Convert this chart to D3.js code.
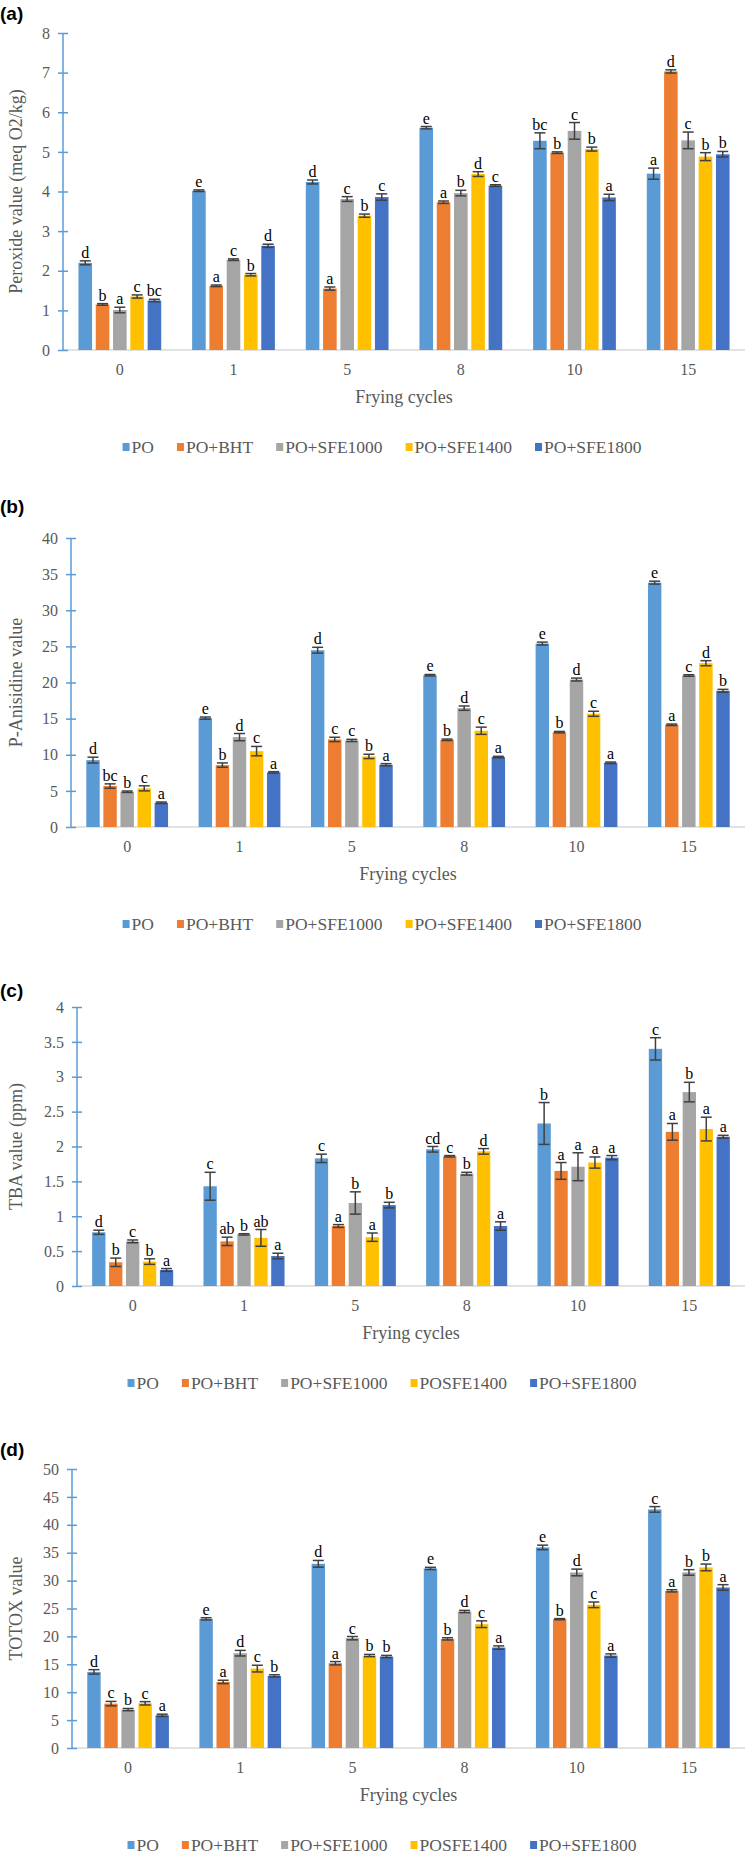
<!DOCTYPE html>
<html>
<head>
<meta charset="utf-8">
<script src="https://cdn.jsdelivr.net/npm/d3@7"></script>
<style>
  body { margin: 0; background: #fff; }
  svg { display: block; }
</style>
</head>
<body>
<div id="chart"></div>
<script>
// Frying cycles on the x axis
const cycles = ["0", "1", "5", "8", "10", "15"];

// legend names (panels c and d spell the 1400 series without "+")
const seriesAB = ["PO", "PO+BHT", "PO+SFE1000", "PO+SFE1400", "PO+SFE1800"];
const seriesCD = ["PO", "PO+BHT", "PO+SFE1000", "POSFE1400", "PO+SFE1800"];

// Excel office palette
const COLORS = ["#5B9BD5", "#ED7D31", "#A5A5A5", "#FFC000", "#4472C4"];

// ---- (a) Peroxide value: rows = series, cols = cycles ----
const peroxideValues = [
  [2.20, 4.02, 4.24, 5.61, 5.28, 4.45],
  [1.15, 1.62, 1.55, 3.73, 4.98, 7.03],
  [1.01, 2.28, 3.81, 3.96, 5.53, 5.29],
  [1.35, 1.90, 3.39, 4.44, 5.07, 4.88],
  [1.25, 2.63, 3.86, 4.15, 3.85, 4.94]
];
const peroxideErrors = [
  [0.05, 0.02, 0.05, 0.03, 0.20, 0.14],
  [0.02, 0.02, 0.04, 0.03, 0.02, 0.04],
  [0.07, 0.02, 0.06, 0.07, 0.21, 0.21],
  [0.04, 0.03, 0.04, 0.06, 0.05, 0.10],
  [0.03, 0.04, 0.08, 0.02, 0.08, 0.07]
];
const peroxideLetters = [
  ["d", "e", "d", "e", "bc", "a"],
  ["b", "a", "a", "a", "b", "d"],
  ["a", "c", "c", "b", "c", "c"],
  ["c", "b", "b", "d", "b", "b"],
  ["bc", "d", "c", "c", "a", "b"]
];

// ---- (b) P-Anisidine value ----
const anisidineValues = [
  [9.26, 15.07, 24.47, 21.01, 25.39, 33.82],
  [5.67, 8.57, 12.12, 12.07, 13.13, 14.15],
  [4.88, 12.44, 11.98, 16.45, 20.41, 20.97],
  [5.35, 10.50, 9.77, 13.32, 15.67, 22.67],
  [3.36, 7.56, 8.62, 9.68, 8.89, 18.85]
];
const anisidineErrors = [
  [0.40, 0.15, 0.40, 0.10, 0.20, 0.20],
  [0.30, 0.30, 0.30, 0.10, 0.10, 0.10],
  [0.10, 0.50, 0.15, 0.30, 0.20, 0.10],
  [0.35, 0.65, 0.30, 0.50, 0.35, 0.35],
  [0.10, 0.10, 0.15, 0.10, 0.10, 0.20]
];
const anisidineLetters = [
  ["d", "e", "d", "e", "e", "e"],
  ["bc", "b", "c", "b", "b", "a"],
  ["b", "d", "c", "d", "d", "c"],
  ["c", "c", "b", "c", "c", "d"],
  ["a", "a", "a", "a", "a", "b"]
];

// ---- (c) TBA value ----
const tbaValues = [
  [0.77, 1.43, 1.83, 1.96, 2.33, 3.40],
  [0.34, 0.64, 0.86, 1.86, 1.65, 2.21],
  [0.64, 0.74, 1.19, 1.61, 1.71, 2.78],
  [0.35, 0.69, 0.70, 1.93, 1.77, 2.25],
  [0.23, 0.43, 1.16, 0.86, 1.84, 2.14]
];
const tbaErrors = [
  [0.03, 0.20, 0.06, 0.04, 0.30, 0.16],
  [0.06, 0.06, 0.02, 0.01, 0.12, 0.12],
  [0.02, 0.01, 0.16, 0.02, 0.20, 0.14],
  [0.04, 0.12, 0.06, 0.04, 0.08, 0.17],
  [0.02, 0.04, 0.04, 0.06, 0.03, 0.02]
];
const tbaLetters = [
  ["d", "c", "c", "cd", "b", "c"],
  ["b", "ab", "a", "c", "a", "a"],
  ["c", "b", "b", "b", "a", "b"],
  ["b", "ab", "a", "d", "a", "a"],
  ["a", "a", "b", "a", "a", "a"]
];

// ---- (d) TOTOX value ----
const totoxValues = [
  [13.64, 23.15, 33.01, 32.18, 35.95, 42.76],
  [7.95, 11.84, 15.19, 19.56, 23.09, 28.17],
  [6.88, 16.99, 19.68, 24.46, 31.46, 31.46],
  [8.01, 14.23, 16.57, 22.19, 25.66, 32.36],
  [5.86, 12.92, 16.39, 18.00, 16.57, 28.77]
];
const totoxErrors = [
  [0.40, 0.20, 0.60, 0.20, 0.40, 0.50],
  [0.40, 0.30, 0.30, 0.20, 0.10, 0.20],
  [0.20, 0.50, 0.30, 0.20, 0.60, 0.50],
  [0.30, 0.60, 0.20, 0.60, 0.50, 0.60],
  [0.20, 0.20, 0.20, 0.30, 0.30, 0.50]
];
const totoxLetters = [
  ["d", "e", "d", "e", "e", "c"],
  ["c", "a", "a", "b", "b", "a"],
  ["b", "d", "c", "d", "d", "b"],
  ["c", "c", "b", "c", "c", "b"],
  ["a", "b", "b", "a", "a", "a"]
];

// y-axis settings per panel
const yMax = [8, 40, 4, 50];
const yStep = [1, 5, 0.5, 5];
const yTitles = ["Peroxide value (meq O2/kg)", "P-Anisidine value", "TBA value (ppm)", "TOTOX value"];
const panelTags = ["(a)", "(b)", "(c)", "(d)"];

const SERIF = "'Liberation Serif', 'Times New Roman', serif";
const SANS = "'Liberation Sans', Arial, sans-serif";
const GREY_TXT = "#595959";

const W = 747, H = 1856;
const svg = d3.select("#chart").append("svg")
  .attr("width", W).attr("height", H)
  .attr("viewBox", [0, 0, W, H]);

// layout per panel (top tick y, zero line y, axis x)
const layout = [
  { tagY: 20,   top: 33,   zero: 350,  left: 63 },
  { tagY: 513,  top: 538,  zero: 827,  left: 71 },
  { tagY: 997,  top: 1007, zero: 1286, left: 77 },
  { tagY: 1456, top: 1469, zero: 1748, left: 72 }
];

const panelData = [
  { values: peroxideValues, errors: peroxideErrors, letters: peroxideLetters, names: seriesAB },
  { values: anisidineValues, errors: anisidineErrors, letters: anisidineLetters, names: seriesAB },
  { values: tbaValues, errors: tbaErrors, letters: tbaLetters, names: seriesCD },
  { values: totoxValues, errors: totoxErrors, letters: totoxLetters, names: seriesCD }
];

panelData.forEach((p, i) => drawPanel(p, layout[i], i));

function drawPanel(p, L, i) {
  const right = 745;
  const g = svg.append("g");

  const x0 = d3.scaleBand().domain(cycles).range([L.left, right]).padding(0);
  const bw0 = x0.bandwidth();
  const x1 = d3.scaleBand()
    .domain(d3.range(p.values.length))
    .range([bw0 * 0.136, bw0 * 0.864])
    .paddingInner(0.214);

  const y = d3.scaleLinear().domain([0, yMax[i]]).range([L.zero, L.top]);
  const ticks = d3.range(0, yMax[i] + yStep[i] / 2, yStep[i]);

  // panel tag
  g.append("text")
    .attr("x", 0).attr("y", L.tagY)
    .attr("font-family", SANS).attr("font-weight", "bold")
    .attr("font-size", 19).attr("fill", "#000")
    .text(panelTags[i]);

  // x axis line (grey)
  g.append("line")
    .attr("x1", L.left).attr("x2", right)
    .attr("y1", L.zero).attr("y2", L.zero)
    .attr("stroke", "#D9D9D9").attr("stroke-width", 1.5);

  // x axis labels
  const xAxis = g.append("g")
    .attr("transform", `translate(0,${L.zero})`)
    .call(d3.axisBottom(x0).tickSize(0).tickPadding(14));
  xAxis.select(".domain").remove();
  xAxis.selectAll("text")
    .attr("font-family", SERIF).attr("font-size", 16).attr("fill", GREY_TXT);

  // bars
  const groups = g.selectAll("g.grp")
    .data(cycles)
    .enter().append("g")
    .attr("class", "grp")
    .attr("transform", d => `translate(${x0(d)},0)`);

  const cells = groups.selectAll("g.cell")
    .data((c, ci) => p.values.map((row, si) => ({
      s: si, v: row[ci], e: p.errors[si][ci], l: p.letters[si][ci]
    })))
    .enter().append("g").attr("class", "cell");

  cells.append("rect")
    .attr("x", d => x1(d.s))
    .attr("width", x1.bandwidth())
    .attr("y", d => y(d.v))
    .attr("height", d => y(0) - y(d.v))
    .attr("fill", d => COLORS[d.s]);

  // error bars
  const capW = 5.5;
  cells.append("line")
    .attr("x1", d => x1(d.s) + x1.bandwidth() / 2)
    .attr("x2", d => x1(d.s) + x1.bandwidth() / 2)
    .attr("y1", d => y(d.v - d.e))
    .attr("y2", d => y(d.v + d.e))
    .attr("stroke", "#404040").attr("stroke-width", 1.5);
  [1, -1].forEach(sign => {
    cells.append("line")
      .attr("x1", d => x1(d.s) + x1.bandwidth() / 2 - capW)
      .attr("x2", d => x1(d.s) + x1.bandwidth() / 2 + capW)
      .attr("y1", d => y(d.v + sign * d.e))
      .attr("y2", d => y(d.v + sign * d.e))
      .attr("stroke", "#404040").attr("stroke-width", 1.5);
  });

  // significance letters
  cells.append("text")
    .attr("x", d => x1(d.s) + x1.bandwidth() / 2)
    .attr("y", d => y(d.v + d.e) - 3)
    .attr("text-anchor", "middle")
    .attr("font-family", SERIF).attr("font-size", 16)
    .attr("fill", "#000")
    .text(d => d.l);

  // y axis (blue, with crossing ticks)
  const yAxis = g.append("g")
    .attr("transform", `translate(${L.left},0)`)
    .call(d3.axisLeft(y).tickValues(ticks).tickFormat(d => String(d))
      .tickSize(0).tickPadding(13));
  yAxis.select(".domain").remove();
  yAxis.selectAll("text")
    .attr("font-family", SERIF).attr("font-size", 16).attr("fill", GREY_TXT);
  yAxis.selectAll(".tick").append("line")
    .attr("x1", -5).attr("x2", 5)
    .attr("stroke", "#5B9BD5").attr("stroke-width", 1.5);
  yAxis.append("line")
    .attr("y1", L.top).attr("y2", L.zero)
    .attr("stroke", "#5B9BD5").attr("stroke-width", 1.5);

  // y title
  g.append("text")
    .attr("transform", `translate(22,${(L.top + L.zero) / 2}) rotate(-90)`)
    .attr("text-anchor", "middle")
    .attr("font-family", SERIF).attr("font-size", 18).attr("fill", GREY_TXT)
    .text(yTitles[i]);

  // x title
  g.append("text")
    .attr("x", (L.left + right) / 2).attr("y", L.zero + 47)
    .attr("dominant-baseline", "central")
    .attr("text-anchor", "middle")
    .attr("font-family", SERIF).attr("font-size", 18).attr("fill", GREY_TXT)
    .text("Frying cycles");

  // legend, centred
  const legY = L.zero + 97;
  const leg = g.append("g");
  let cx = 0;
  p.names.forEach((name, si) => {
    const item = leg.append("g").attr("transform", `translate(${cx},0)`);
    item.append("rect")
      .attr("x", 0).attr("y", -4).attr("width", 7).attr("height", 8)
      .attr("fill", COLORS[si]);
    const t = item.append("text")
      .attr("x", 9).attr("y", 0)
      .attr("dominant-baseline", "central")
      .attr("font-family", SERIF).attr("font-size", 17.5).attr("fill", GREY_TXT)
      .text(name);
    cx += 9 + t.node().getComputedTextLength() + 23;
  });
  const legW = cx - 23;
  leg.attr("transform", `translate(${382 - legW / 2},${legY})`);
}
</script>
</body>
</html>
